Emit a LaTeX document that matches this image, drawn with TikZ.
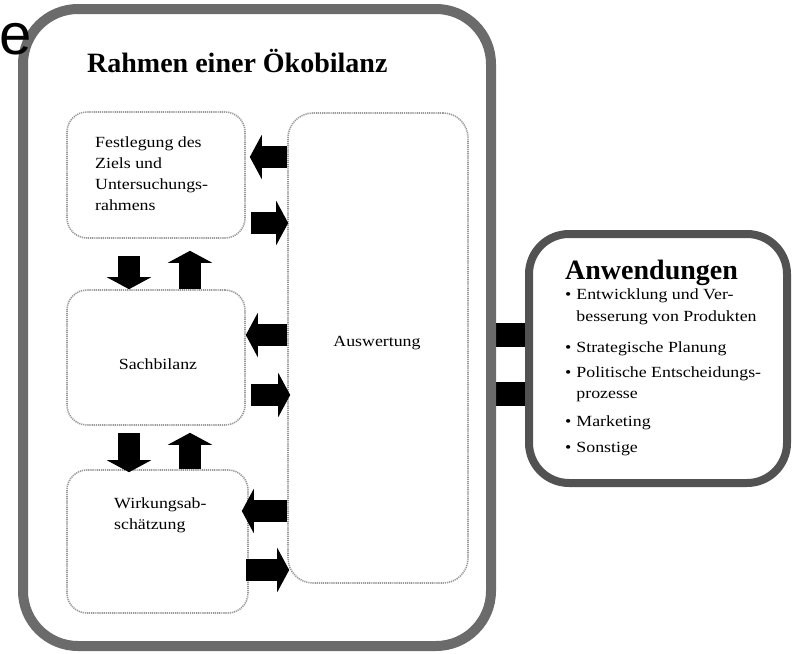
\documentclass[tikz,border=0pt]{standalone}
\usepackage{fontspec}
\setmainfont{Liberation Serif}
\newfontfamily\wideserif[FakeStretch=1.15]{Liberation Serif}
\newfontfamily\sansbig{Liberation Sans}
\usetikzlibrary{arrows.meta,backgrounds}
\tikzset{
  bigframe/.style={draw=black!58, line width=10pt, rounded corners=55pt, fill=white},
  appframe/.style={draw=black!68, line width=8pt, rounded corners=40pt, fill=white},
  stagebox/.style={draw=black!40, line width=1.6pt, dash pattern=on 1.2pt off 0.9pt, rounded corners=20pt},
  boxtext/.style={font=\wideserif\fontsize{15.5}{21}\selectfont, inner sep=0pt},
  blockarr/.style={line width=22pt, black, -{Triangle[length=12pt,width=44pt]}},
  linkbar/.style={line width=24pt, black},
}
\begin{document}
\begin{tikzpicture}[x=1pt,y=-1pt]
\useasboundingbox (0,0) rectangle (792,653);
% big frame and application box
\node[bigframe, minimum width=468pt, minimum height=637pt] (frame) at (257,327.5) {};
\node[appframe, minimum width=258pt, minimum height=249pt] (anw) at (658,358.5) {};
% partial word at top left
\node[anchor=base west, inner sep=0pt, font=\sansbig\fontsize{58}{58}\selectfont] (cut) at (-1,54) {e};
% title
\node[anchor=base west, inner sep=0pt, font=\bfseries\fontsize{28}{30}\selectfont] (title) at (87,72) {Rahmen einer Ökobilanz};
% stage boxes
\node[stagebox, minimum width=178pt, minimum height=126pt] (ziel) at (156,175) {};
\node[stagebox, minimum width=178pt, minimum height=135pt] (sach) at (156,357.5) {};
\node[stagebox, minimum width=181pt, minimum height=143pt] (wirk) at (157.5,541.5) {};
\node[stagebox, rounded corners=25pt, minimum width=180pt, minimum height=470pt] (ausw) at (378,348) {};
% texts (anchored at the baseline of their last line)
\node[boxtext, anchor=base west, align=left] (zielt) at (95,210) {Festlegung des\\Ziels und\\Untersuchungs-\\rahmens};
\node[boxtext, anchor=base] (sacht) at (158,369) {Sachbilanz};
\node[boxtext, anchor=base west, align=left] (wirkt) at (114,529) {Wirkungsab-\\schätzung};
\node[boxtext, anchor=base] (auswt) at (377,346) {Auswertung};
% application text
\node[anchor=base west, inner sep=0pt, font=\bfseries\fontsize{28}{30}\selectfont] (anwt) at (565,279) {Anwendungen};
\node[anchor=north west, inner sep=0pt, font=\wideserif\fontsize{15.5}{20}\selectfont] (anwl) at (565,285)
{\begin{tabular}{@{}l@{\hspace{5pt}}l@{}}
\textbullet & Entwicklung und Ver-\\[2pt]
 & besserung von Produkten\\[11pt]
\textbullet & Strategische Planung\\[5pt]
\textbullet & Politische Entscheidungs-\\[1pt]
 & prozesse\\[8pt]
\textbullet & Marketing\\[6pt]
\textbullet & Sonstige
\end{tabular}};
% x positions of vertical arrows
\coordinate (xd) at (129,0);
\coordinate (xu) at (190,0);
% vertical arrows
\draw[blockarr] ([yshift=-17pt]ziel.south -| xd) -- (sach.north -| xd);
\draw[blockarr] (sach.north -| xu) -- ([yshift=-12pt]ziel.south -| xu);
\draw[blockarr] ([yshift=-7pt]sach.south -| xd) -- ([yshift=-3pt]wirk.north -| xd);
\draw[blockarr] (wirk.north -| xu) -- ([yshift=-7pt]sach.south -| xu);
% horizontal arrows
\coordinate (y1) at (0,157);
\coordinate (y2) at (0,223);
\coordinate (y3) at (0,335);
\coordinate (y4) at (0,395);
\coordinate (y5) at (0,511);
\coordinate (y6) at (0,570);
\draw[blockarr] (ausw.west |- y1) -- ([xshift=4pt]ziel.east |- y1);
\draw[blockarr] ([xshift=5pt]ziel.east |- y2) -- ([xshift=1pt]ausw.west |- y2);
\draw[blockarr] (ausw.west |- y3) -- (sach.east |- y3);
\draw[blockarr] ([xshift=5pt]sach.east |- y4) -- ([xshift=3pt]ausw.west |- y4);
\draw[blockarr] (ausw.west |- y5) -- ([xshift=-7pt]wirk.east |- y5);
\draw[blockarr] ([xshift=-3pt]wirk.east |- y6) -- ([xshift=2pt]ausw.west |- y6);
% links frame -> applications
\begin{pgfonlayer}{background}
\coordinate (ya) at (0,334.5);
\coordinate (yb) at (0,393.5);
\draw[linkbar] (frame.east |- ya) -- (anw.west |- ya);
\draw[linkbar] (frame.east |- yb) -- (anw.west |- yb);
\end{pgfonlayer}
\end{tikzpicture}
\end{document}
